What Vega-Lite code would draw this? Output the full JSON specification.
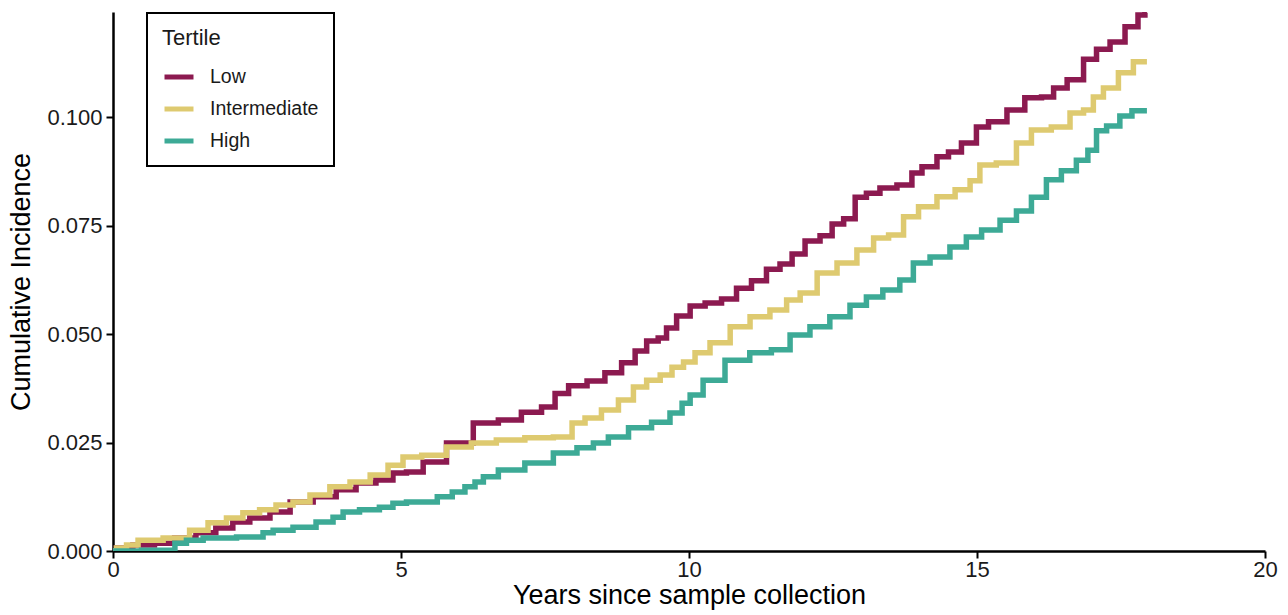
{
  "$schema": "https://vega.github.io/schema/vega-lite/v6.json",
  "autosize": {"type": "none"},
  "width": 1152,
  "height": 539,
  "padding": {"left": 113, "top": 12, "right": 23, "bottom": 64},
  "background": "white",
  "config": {
    "view": {"stroke": null},
    "font": "Liberation Sans",
    "axis": {
      "grid": false,
      "domainColor": "black",
      "domainWidth": 2.5,
      "tickColor": "black",
      "tickWidth": 2,
      "tickSize": 7,
      "labelColor": "#1a1a1a",
      "labelFontSize": 22,
      "labelFont": "Liberation Sans",
      "labelFlush": false,
      "titleFont": "Liberation Sans",
      "titleFontSize": 27,
      "titleFontWeight": "normal",
      "titleColor": "black"
    },
    "legend": {
      "titleFont": "Liberation Sans",
      "labelFont": "Liberation Sans",
      "strokeWidth": 2
    }
  },
  "data": {
    "values": [
      {"tertile": "Low", "t": 0, "ci": 0},
      {"tertile": "Low", "t": 0.12, "ci": 0.0007},
      {"tertile": "Low", "t": 0.57, "ci": 0.0014},
      {"tertile": "Low", "t": 0.87, "ci": 0.0018},
      {"tertile": "Low", "t": 1.27, "ci": 0.003},
      {"tertile": "Low", "t": 1.61, "ci": 0.0042},
      {"tertile": "Low", "t": 1.96, "ci": 0.0053},
      {"tertile": "Low", "t": 2.2, "ci": 0.0067},
      {"tertile": "Low", "t": 2.55, "ci": 0.0076},
      {"tertile": "Low", "t": 2.9, "ci": 0.009},
      {"tertile": "Low", "t": 3.25, "ci": 0.0113},
      {"tertile": "Low", "t": 3.7, "ci": 0.0125},
      {"tertile": "Low", "t": 4.05, "ci": 0.0141},
      {"tertile": "Low", "t": 4.39, "ci": 0.0157},
      {"tertile": "Low", "t": 4.74, "ci": 0.0164},
      {"tertile": "Low", "t": 4.98, "ci": 0.018},
      {"tertile": "Low", "t": 5.21, "ci": 0.0182},
      {"tertile": "Low", "t": 5.56, "ci": 0.0205},
      {"tertile": "Low", "t": 6.02, "ci": 0.0249},
      {"tertile": "Low", "t": 6.49, "ci": 0.0295},
      {"tertile": "Low", "t": 6.89, "ci": 0.0302},
      {"tertile": "Low", "t": 7.29, "ci": 0.032},
      {"tertile": "Low", "t": 7.59, "ci": 0.0332},
      {"tertile": "Low", "t": 7.76, "ci": 0.0363},
      {"tertile": "Low", "t": 8.06, "ci": 0.0381},
      {"tertile": "Low", "t": 8.4, "ci": 0.0392},
      {"tertile": "Low", "t": 8.68, "ci": 0.0411},
      {"tertile": "Low", "t": 8.98, "ci": 0.0434},
      {"tertile": "Low", "t": 9.15, "ci": 0.0461},
      {"tertile": "Low", "t": 9.38, "ci": 0.0484},
      {"tertile": "Low", "t": 9.55, "ci": 0.0491},
      {"tertile": "Low", "t": 9.67, "ci": 0.0514},
      {"tertile": "Low", "t": 9.9, "ci": 0.0542},
      {"tertile": "Low", "t": 10.14, "ci": 0.0565},
      {"tertile": "Low", "t": 10.42, "ci": 0.0572},
      {"tertile": "Low", "t": 10.71, "ci": 0.0581},
      {"tertile": "Low", "t": 10.94, "ci": 0.0606},
      {"tertile": "Low", "t": 11.23, "ci": 0.0623},
      {"tertile": "Low", "t": 11.46, "ci": 0.065},
      {"tertile": "Low", "t": 11.7, "ci": 0.0662},
      {"tertile": "Low", "t": 11.88, "ci": 0.0685},
      {"tertile": "Low", "t": 12.15, "ci": 0.0715},
      {"tertile": "Low", "t": 12.4, "ci": 0.0727},
      {"tertile": "Low", "t": 12.57, "ci": 0.0754},
      {"tertile": "Low", "t": 12.8, "ci": 0.0766},
      {"tertile": "Low", "t": 12.97, "ci": 0.0816},
      {"tertile": "Low", "t": 13.19, "ci": 0.0825},
      {"tertile": "Low", "t": 13.44, "ci": 0.0837},
      {"tertile": "Low", "t": 13.78, "ci": 0.0844},
      {"tertile": "Low", "t": 13.96, "ci": 0.0872},
      {"tertile": "Low", "t": 14.13, "ci": 0.0886},
      {"tertile": "Low", "t": 14.48, "ci": 0.0909},
      {"tertile": "Low", "t": 14.53, "ci": 0.092},
      {"tertile": "Low", "t": 14.93, "ci": 0.0941},
      {"tertile": "Low", "t": 15.05, "ci": 0.0978},
      {"tertile": "Low", "t": 15.35, "ci": 0.099},
      {"tertile": "Low", "t": 15.69, "ci": 0.1017},
      {"tertile": "Low", "t": 15.97, "ci": 0.1045},
      {"tertile": "Low", "t": 16.27, "ci": 0.1047},
      {"tertile": "Low", "t": 16.39, "ci": 0.1068},
      {"tertile": "Low", "t": 16.74, "ci": 0.1087},
      {"tertile": "Low", "t": 16.96, "ci": 0.1134},
      {"tertile": "Low", "t": 17.19, "ci": 0.1157},
      {"tertile": "Low", "t": 17.43, "ci": 0.1174},
      {"tertile": "Low", "t": 17.71, "ci": 0.1209},
      {"tertile": "Low", "t": 17.88, "ci": 0.1236},
      {"tertile": "Low", "t": 17.95, "ci": 0.1241},
      {"tertile": "Intermediate", "t": 0, "ci": 0},
      {"tertile": "Intermediate", "t": 0.12, "ci": 0.0007},
      {"tertile": "Intermediate", "t": 0.35, "ci": 0.0014},
      {"tertile": "Intermediate", "t": 0.52, "ci": 0.0025},
      {"tertile": "Intermediate", "t": 1.22, "ci": 0.003},
      {"tertile": "Intermediate", "t": 1.44, "ci": 0.0048},
      {"tertile": "Intermediate", "t": 1.86, "ci": 0.0065},
      {"tertile": "Intermediate", "t": 2.08, "ci": 0.0076},
      {"tertile": "Intermediate", "t": 2.43, "ci": 0.0088},
      {"tertile": "Intermediate", "t": 2.66, "ci": 0.0095},
      {"tertile": "Intermediate", "t": 3.0, "ci": 0.0106},
      {"tertile": "Intermediate", "t": 3.25, "ci": 0.0113},
      {"tertile": "Intermediate", "t": 3.59, "ci": 0.0129},
      {"tertile": "Intermediate", "t": 3.94, "ci": 0.0148},
      {"tertile": "Intermediate", "t": 4.29, "ci": 0.0159},
      {"tertile": "Intermediate", "t": 4.64, "ci": 0.0175},
      {"tertile": "Intermediate", "t": 4.91, "ci": 0.0198},
      {"tertile": "Intermediate", "t": 5.16, "ci": 0.0217},
      {"tertile": "Intermediate", "t": 5.56, "ci": 0.0221},
      {"tertile": "Intermediate", "t": 6.02, "ci": 0.024},
      {"tertile": "Intermediate", "t": 6.42, "ci": 0.0249},
      {"tertile": "Intermediate", "t": 6.89, "ci": 0.0256},
      {"tertile": "Intermediate", "t": 7.41, "ci": 0.0261},
      {"tertile": "Intermediate", "t": 7.88, "ci": 0.0263},
      {"tertile": "Intermediate", "t": 8.06, "ci": 0.0295},
      {"tertile": "Intermediate", "t": 8.33, "ci": 0.0307},
      {"tertile": "Intermediate", "t": 8.63, "ci": 0.0325},
      {"tertile": "Intermediate", "t": 8.92, "ci": 0.0348},
      {"tertile": "Intermediate", "t": 9.15, "ci": 0.0378},
      {"tertile": "Intermediate", "t": 9.38, "ci": 0.0394},
      {"tertile": "Intermediate", "t": 9.62, "ci": 0.0406},
      {"tertile": "Intermediate", "t": 9.79, "ci": 0.0424},
      {"tertile": "Intermediate", "t": 10.02, "ci": 0.0436},
      {"tertile": "Intermediate", "t": 10.19, "ci": 0.0457},
      {"tertile": "Intermediate", "t": 10.54, "ci": 0.048},
      {"tertile": "Intermediate", "t": 10.89, "ci": 0.0517},
      {"tertile": "Intermediate", "t": 11.23, "ci": 0.054},
      {"tertile": "Intermediate", "t": 11.58, "ci": 0.0556},
      {"tertile": "Intermediate", "t": 11.81, "ci": 0.0579},
      {"tertile": "Intermediate", "t": 12.05, "ci": 0.0595},
      {"tertile": "Intermediate", "t": 12.4, "ci": 0.0641},
      {"tertile": "Intermediate", "t": 12.74, "ci": 0.0664},
      {"tertile": "Intermediate", "t": 13.09, "ci": 0.0694},
      {"tertile": "Intermediate", "t": 13.32, "ci": 0.0722},
      {"tertile": "Intermediate", "t": 13.61, "ci": 0.0729},
      {"tertile": "Intermediate", "t": 13.84, "ci": 0.0771},
      {"tertile": "Intermediate", "t": 14.13, "ci": 0.0794},
      {"tertile": "Intermediate", "t": 14.48, "ci": 0.0817},
      {"tertile": "Intermediate", "t": 14.76, "ci": 0.0833},
      {"tertile": "Intermediate", "t": 15.0, "ci": 0.0854},
      {"tertile": "Intermediate", "t": 15.1, "ci": 0.089},
      {"tertile": "Intermediate", "t": 15.57, "ci": 0.0895},
      {"tertile": "Intermediate", "t": 15.8, "ci": 0.0941},
      {"tertile": "Intermediate", "t": 16.09, "ci": 0.0971},
      {"tertile": "Intermediate", "t": 16.49, "ci": 0.0978},
      {"tertile": "Intermediate", "t": 16.74, "ci": 0.101},
      {"tertile": "Intermediate", "t": 16.96, "ci": 0.1017},
      {"tertile": "Intermediate", "t": 17.08, "ci": 0.1047},
      {"tertile": "Intermediate", "t": 17.31, "ci": 0.1068},
      {"tertile": "Intermediate", "t": 17.6, "ci": 0.1103},
      {"tertile": "Intermediate", "t": 17.83, "ci": 0.1128},
      {"tertile": "Intermediate", "t": 17.95, "ci": 0.1128},
      {"tertile": "High", "t": 0, "ci": 0},
      {"tertile": "High", "t": 0.99, "ci": 0.0002},
      {"tertile": "High", "t": 1.16, "ci": 0.0018},
      {"tertile": "High", "t": 1.39, "ci": 0.0025},
      {"tertile": "High", "t": 1.74, "ci": 0.003},
      {"tertile": "High", "t": 2.55, "ci": 0.0032},
      {"tertile": "High", "t": 2.66, "ci": 0.0042},
      {"tertile": "High", "t": 2.9, "ci": 0.0048},
      {"tertile": "High", "t": 3.35, "ci": 0.0055},
      {"tertile": "High", "t": 3.7, "ci": 0.0067},
      {"tertile": "High", "t": 3.94, "ci": 0.0078},
      {"tertile": "High", "t": 4.05, "ci": 0.009},
      {"tertile": "High", "t": 4.51, "ci": 0.0095},
      {"tertile": "High", "t": 4.74, "ci": 0.0101},
      {"tertile": "High", "t": 4.98, "ci": 0.011},
      {"tertile": "High", "t": 5.21, "ci": 0.0113},
      {"tertile": "High", "t": 5.5, "ci": 0.0113},
      {"tertile": "High", "t": 5.76, "ci": 0.0125},
      {"tertile": "High", "t": 6.02, "ci": 0.0136},
      {"tertile": "High", "t": 6.2, "ci": 0.0148},
      {"tertile": "High", "t": 6.37, "ci": 0.0159},
      {"tertile": "High", "t": 6.49, "ci": 0.0171},
      {"tertile": "High", "t": 6.89, "ci": 0.0187},
      {"tertile": "High", "t": 7.41, "ci": 0.0203},
      {"tertile": "High", "t": 7.88, "ci": 0.0226},
      {"tertile": "High", "t": 8.23, "ci": 0.0238},
      {"tertile": "High", "t": 8.45, "ci": 0.0249},
      {"tertile": "High", "t": 8.75, "ci": 0.0263},
      {"tertile": "High", "t": 9.15, "ci": 0.0284},
      {"tertile": "High", "t": 9.55, "ci": 0.0297},
      {"tertile": "High", "t": 9.79, "ci": 0.0318},
      {"tertile": "High", "t": 9.97, "ci": 0.0341},
      {"tertile": "High", "t": 10.07, "ci": 0.036},
      {"tertile": "High", "t": 10.42, "ci": 0.0394},
      {"tertile": "High", "t": 10.83, "ci": 0.044},
      {"tertile": "High", "t": 11.28, "ci": 0.0457},
      {"tertile": "High", "t": 11.58, "ci": 0.0464},
      {"tertile": "High", "t": 11.93, "ci": 0.0498},
      {"tertile": "High", "t": 12.27, "ci": 0.0517},
      {"tertile": "High", "t": 12.62, "ci": 0.054},
      {"tertile": "High", "t": 12.97, "ci": 0.0567},
      {"tertile": "High", "t": 13.19, "ci": 0.0586},
      {"tertile": "High", "t": 13.54, "ci": 0.0602},
      {"tertile": "High", "t": 13.78, "ci": 0.0625},
      {"tertile": "High", "t": 14.01, "ci": 0.0664},
      {"tertile": "High", "t": 14.36, "ci": 0.0678},
      {"tertile": "High", "t": 14.7, "ci": 0.0701},
      {"tertile": "High", "t": 14.93, "ci": 0.0724},
      {"tertile": "High", "t": 15.23, "ci": 0.074},
      {"tertile": "High", "t": 15.57, "ci": 0.0763},
      {"tertile": "High", "t": 15.8, "ci": 0.0784},
      {"tertile": "High", "t": 16.09, "ci": 0.0816},
      {"tertile": "High", "t": 16.32, "ci": 0.0856},
      {"tertile": "High", "t": 16.61, "ci": 0.0877},
      {"tertile": "High", "t": 16.84, "ci": 0.0901},
      {"tertile": "High", "t": 17.01, "ci": 0.0924},
      {"tertile": "High", "t": 17.14, "ci": 0.0969},
      {"tertile": "High", "t": 17.36, "ci": 0.098},
      {"tertile": "High", "t": 17.6, "ci": 0.1003},
      {"tertile": "High", "t": 17.78, "ci": 0.1015},
      {"tertile": "High", "t": 17.95, "ci": 0.1015}
    ]
  },
  "mark": {"type": "line", "interpolate": "step", "strokeWidth": 5.5, "clip": true},
  "encoding": {
    "x": {
      "field": "t",
      "type": "quantitative",
      "scale": {"domain": [0, 20], "nice": false, "zero": true},
      "axis": {
        "values": [0, 5, 10, 15, 20],
        "format": "d",
        "title": "Years since sample collection",
        "labelPadding": 1,
        "titlePadding": 2
      }
    },
    "y": {
      "field": "ci",
      "type": "quantitative",
      "scale": {"domain": [0, 0.1243], "nice": false},
      "axis": {
        "values": [0, 0.025, 0.05, 0.075, 0.1],
        "format": ".3f",
        "title": "Cumulative Incidence",
        "labelPadding": 4,
        "titlePadding": 11
      }
    },
    "color": {
      "field": "tertile",
      "type": "nominal",
      "sort": ["Low", "Intermediate", "High"],
      "scale": {
        "domain": ["Low", "Intermediate", "High"],
        "range": ["#8C1A50", "#DECA70", "#3DAA96"]
      },
      "legend": {
        "title": "Tertile",
        "orient": "none",
        "legendX": 34,
        "legendY": 1,
        "symbolType": "stroke",
        "symbolSize": 841,
        "symbolStrokeWidth": 5,
        "labelFontSize": 19.5,
        "labelColor": "#1a1a1a",
        "titleFontSize": 22,
        "titleFontWeight": "normal",
        "titleColor": "#1a1a1a",
        "labelOffset": 14,
        "rowPadding": 5,
        "titlePadding": 10,
        "padding": 15,
        "strokeColor": "black",
        "fillColor": "white"
      }
    }
  }
}
